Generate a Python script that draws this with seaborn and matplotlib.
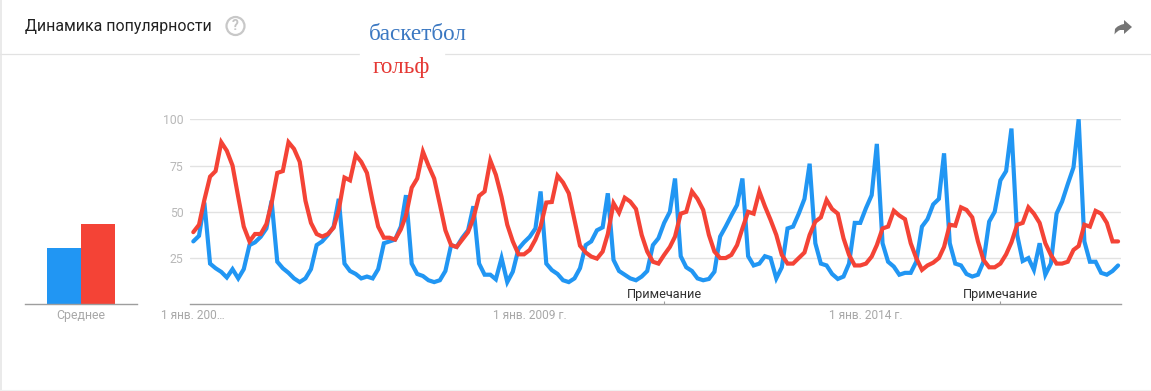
import matplotlib
matplotlib.use("Agg")
import matplotlib.pyplot as plt
import matplotlib.dates as mdates
from matplotlib.path import Path
from matplotlib.patches import PathPatch, Circle, Rectangle
import pandas as pd
import seaborn as sns

# ---------- data ----------
terms = ["баскетбол", "гольф"]
averages = [30.4, 43.4]
basketball = [
    34, 37, 55, 22, 19.5, 17.5, 14.5, 19, 14, 19, 32, 33.5,
    36.5, 41, 56, 23, 19.5, 17, 14, 12, 14, 19, 32, 34,
    37.5, 42, 57, 22, 18, 16.4, 14, 15, 14, 19, 33, 34,
    35, 42, 59, 22, 16.4, 15.3, 13, 12, 13, 18, 32, 31,
    36, 40, 53, 22, 16, 16, 13.5, 25, 12, 17.6, 30, 33.5,
    36.5, 41, 61, 22, 18.5, 16.4, 13, 12, 14, 19.5, 32, 34,
    40, 41.6, 60, 24, 18, 16, 14, 13, 15, 18, 32, 35.7,
    44, 50, 68, 26, 20, 18, 14, 13, 13.7, 17.6, 36.6, 42,
    48, 53.7, 68, 26, 21, 22, 26, 25, 14, 20, 41, 42,
    49, 57, 76, 33, 22, 21, 16.4, 13.7, 15, 22, 44, 44,
    52, 59, 86.7, 33, 23, 20.4, 16, 17, 17, 23, 42, 46,
    54, 57, 81.6, 33, 22, 21, 16.4, 15, 16, 23, 44.7, 50,
    67, 72, 95, 37.5, 23.4, 25, 18.6, 33, 16, 22, 49, 55.5,
    65, 74, 100, 34, 23, 23, 17, 16, 18, 21,
]
golf = [
    39, 43, 56.4, 69, 72, 87.6, 83, 75, 58, 42, 34, 38,
    38, 43.4, 54.6, 71, 72, 87.6, 84, 77, 56, 44, 38, 36.6,
    38, 41.4, 51, 68.5, 67, 80.7, 77, 71, 55.5, 42, 36, 36,
    35, 40.5, 48, 63, 68, 82.5, 75, 68, 54, 40, 32, 31,
    35, 39, 46.5, 58.6, 61, 77.7, 70, 58, 43, 34, 27, 27,
    29.4, 35, 42, 55, 55.3, 69.5, 65.8, 60, 45.6, 31.7, 28, 25.8,
    24.7, 28.5, 38, 54.6, 49.5, 57.6, 55.5, 51.5, 37.5, 28.5, 23, 22,
    26.7, 31, 36.6, 49, 50, 61, 57, 51, 37.5, 28.5, 25, 25,
    26.7, 32, 41, 50, 49, 61, 53, 45.6, 37.5, 26.7, 22, 22,
    25, 28, 37.5, 44.7, 47, 56.4, 51.5, 49, 35.7, 26.7, 21, 21,
    22, 25.8, 32, 41, 42, 50.6, 48, 46, 33, 25, 18.6, 21,
    22.5, 25, 31, 43, 42.5, 52.4, 51, 47, 34, 24, 20, 20,
    22, 27, 33.5, 43, 44, 52.4, 49, 44, 33, 26.7, 22, 22,
    23, 29.4, 31.5, 43, 42, 50.5, 49, 44, 34, 34,
]
start_month = "2004-01-01"
y_ticks = [25, 50, 75, 100]
date_ticks = ["2004-01-01", "2009-01-01", "2014-01-01"]
date_labels = ["1 янв. 200…", "1 янв. 2009 г.", "1 янв. 2014 г."]
note_dates = ["2011-01-01", "2016-01-01"]
note_label = "Примечание"
title = "Динамика популярности"
bar_label = "Среднее"

# ---------- style ----------
BLUE, RED = "#2196F3", "#F44336"
GRID, BASE, LABEL = "#e2e2e2", "#9e9e9e", "#b8b8b8"
W, H = 1151, 391
sns.set_theme(style="white")
plt.rcParams["font.family"] = ["Roboto", "DejaVu Sans"]
fig = plt.figure(figsize=(W / 100, H / 100), dpi=100, facecolor="white")


def box(x0, x1, y_top, y_bottom):
    return [x0 / W, 1 - y_bottom / H, (x1 - x0) / W, (y_bottom - y_top) / H]


# ---------- page furniture (pixel coordinates) ----------
page = fig.add_axes([0, 0, 1, 1], zorder=0)
page.set_xlim(0, W)
page.set_ylim(H, 0)
page.axis("off")
page.plot([0, W], [54, 54], color="#e2e2e2", lw=0.9)
page.plot([0.6, 0.6], [0, H], color="#e6e6e6", lw=1.2)
page.plot([0, W], [390.4, 390.4], color="#f0f0f0", lw=0.8)
page.add_patch(Rectangle((360, 50), 84, 8, color="white", zorder=3))
page.text(25, 27, title, fontsize=11.45, color="#212121", va="center", ha="left")
page.add_patch(Circle((235.5, 26), 9, fill=False, ec="#c8c8c8", lw=1.6))
page.text(235.5, 26.3, "?", fontsize=10, color="#c4c4c4", fontweight="bold", ha="center", va="center")
page.text(418, 34, terms[0], family=["Liberation Serif"], fontsize=16.7, color="#3B78C2", ha="center", va="center", zorder=4)
page.text(401.5, 68, terms[1], family=["Liberation Serif"], fontsize=16.7, color="#E53935", ha="center", va="center", zorder=4)
arrow = Path(
    [(1132, 27), (1124, 20), (1124, 24), (1118, 25), (1115, 29), (1114.5, 34.5),
     (1117, 31), (1120, 30), (1124, 30), (1124, 34), (1132, 27)],
    [Path.MOVETO, Path.LINETO, Path.LINETO, Path.CURVE3, Path.CURVE3, Path.LINETO,
     Path.CURVE3, Path.CURVE3, Path.LINETO, Path.LINETO, Path.CLOSEPOLY],
)
page.add_patch(PathPatch(arrow, fc="#757575", ec="none"))

# ---------- data tables ----------
months = pd.date_range(start_month, periods=len(basketball), freq="MS")
long_df = pd.concat(
    [
        pd.DataFrame({"date": months, "value": basketball, "term": terms[0]}),
        pd.DataFrame({"date": months, "value": golf, "term": terms[1]}),
    ]
)
avg_df = pd.DataFrame({"group": [bar_label, bar_label], "term": terms, "value": averages})
palette = {terms[0]: BLUE, terms[1]: RED}

# ---------- average bars ----------
ax_bar = fig.add_axes(box(25, 137, 119.3, 304.3), facecolor="none", zorder=1)
sns.barplot(data=avg_df, x="group", y="value", hue="term", palette=palette, width=0.8,
            saturation=1, linewidth=0, gap=0, legend=False, ax=ax_bar)
ax_bar.set_xlim(-0.659, 0.659)
ax_bar.set_ylim(0, 100)
ax_bar.set_xlabel("")
ax_bar.set_ylabel("")
ax_bar.set_yticks([])
ax_bar.tick_params(axis="x", length=0, pad=3.2, labelsize=8.9, labelcolor="#a8a8a8")
sns.despine(ax=ax_bar, left=True)
ax_bar.spines["bottom"].set_color(BASE)
ax_bar.spines["bottom"].set_linewidth(1.0)

# ---------- trend lines ----------
ax = fig.add_axes(box(190, 1121, 119.3, 304.3), facecolor="none", zorder=1)
sns.lineplot(data=long_df, x="date", y="value", hue="term", palette=palette, hue_order=terms,
             estimator=None, linewidth=3.0, legend=False, clip_on=False, ax=ax)
for line in ax.get_lines():
    line.set_solid_joinstyle("miter")
d0 = mdates.date2num(pd.Timestamp(date_ticks[0]))
days_per_px = (mdates.date2num(pd.Timestamp(note_dates[1])) - d0) / (1000.4 - 193.3)
ax.set_xlim(d0 - 3.3 * days_per_px, d0 + (1121 - 193.3) * days_per_px)
ax.set_ylim(0, 100)
ax.set_xlabel("")
ax.set_ylabel("")
ax.set_yticks(y_ticks)
ax.yaxis.grid(True, color=GRID, lw=1.0)
ax.set_axisbelow(True)
ax.tick_params(axis="y", length=0, pad=4.5, labelsize=8.8, labelcolor=LABEL)
ax.set_xticks([mdates.date2num(pd.Timestamp(d)) for d in date_ticks])
ax.set_xticklabels(date_labels)
ax.tick_params(axis="x", which="major", length=0, pad=3.2, labelsize=8.6, labelcolor="#a8a8a8")
note_nums = [mdates.date2num(pd.Timestamp(d)) for d in note_dates]
ax.set_xticks(note_nums, minor=True)
ax.tick_params(axis="x", which="minor", direction="in", bottom=True, length=2.5, width=0.8, color=BASE)
for n in note_nums:
    ax.annotate(note_label, (n, 0), xytext=(0, 2.2), textcoords="offset points", ha="center",
                va="bottom", fontsize=9.2, color="#303030")
sns.despine(ax=ax, left=True)
ax.spines["bottom"].set_color(BASE)
ax.spines["bottom"].set_linewidth(1.0)

fig.savefig("out.png", dpi=100, facecolor="white")
